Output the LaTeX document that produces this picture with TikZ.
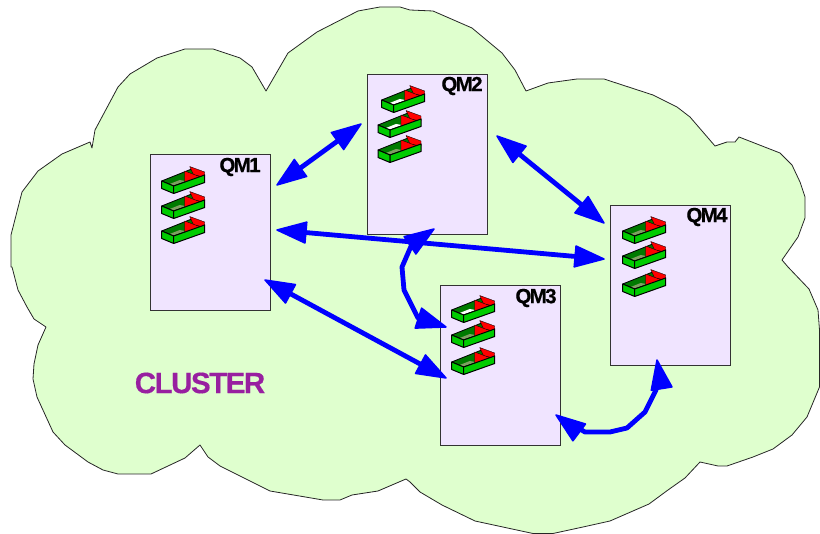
\documentclass[tikz,border=0pt]{standalone}
\usepackage{fontspec}
\setmainfont{Liberation Sans}
\usetikzlibrary{calc}
\definecolor{cloudfill}{HTML}{DFFFCE}
\definecolor{boxfill}{HTML}{F0E4FF}
\definecolor{traydark}{HTML}{007A00}
\definecolor{traylight}{HTML}{00CC00}
\definecolor{floorolive}{HTML}{7F9F62}
\definecolor{clusterpurple}{HTML}{981FA0}
\newcommand{\linkhead}[2]{%
  \coordinate (hb) at ($(#1)!29pt!(#2)$);
  \filldraw[headfill] (#1) -- ($(hb)!10.5pt!90:(#1)$) -- ($(hb)!10.5pt!-90:(#1)$) -- cycle;}
\tikzset{
  qmbox/.style={draw=black!80,fill=boxfill,line width=0.9pt,inner sep=0pt,outer sep=0pt},
  qmlabel/.style={inner sep=0pt,font=\fontsize{20.5}{22}\selectfont\bfseries\addfontfeature{LetterSpace=-8,FakeBold=0.6}},
  link/.style={draw=blue,line width=4.8pt,line join=round,shorten >=14pt,shorten <=14pt},
  headfill/.style={draw=blue,fill=blue,line width=1.5pt,line join=round},
  pics/tray/.style={code={
    \draw[fill=traydark,line width=0.8pt,line join=round] (0,0) -- (30,-12) -- (43,-6) -- (12,5) -- cycle;
    \fill[#1] (8,3) -- (18,-1) -- (24,0) -- (12,4.3) -- cycle;
    \draw[fill=red,line width=0.35pt,line join=round] (28,-14.5) -- (43,-9) -- (43,-4) -- (32,-6) -- cycle;
    \draw[fill=red,line width=0.35pt,line join=round] (23,-10) -- (39,-4) -- (23,2) -- cycle;
    \draw[fill=traylight,line width=1pt,line join=round] (0,0) -- (12,5) -- (12,12.5) -- (0,7.5) -- cycle;
    \draw[fill=traylight,line width=1pt,line join=round] (12,5) -- (43,-6) -- (43,1.5) -- (12,12.5) -- cycle;
  }}
}
\begin{document}
\begin{tikzpicture}[x=1pt,y=-1pt]
\useasboundingbox (0,0) rectangle (820,534);
% cloud
\draw[fill=cloudfill,draw=black!85,line width=0.8pt,line join=round]
 (92,148) -- (90,142) -- (62,154) -- (38,171) -- (22,192) -- (11,235) -- (11,267) -- (12,267)
 -- (18,290) -- (27,307) -- (34,319) -- (46,327) -- (38,345) -- (34,364) -- (33,379) -- (37,397)
 -- (53,432) -- (65,445) -- (88,462) -- (103,470) -- (118,474) -- (151,474) -- (185,458) -- (200,445)
 -- (208,457) -- (220,466) -- (270,491) -- (323,500) -- (340,500) -- (352,495) -- (378,491) -- (406,479)
 -- (410,482) -- (420,492) -- (442,505) -- (475,521) -- (533,533.5) -- (553,533.5) -- (583,527) -- (610,521)
 -- (649,504) -- (668,490) -- (685,478) -- (700,462) -- (718,466) -- (727,466) -- (753,457) -- (773,449)
 -- (792,435) -- (807,417) -- (819.5,387) -- (819.5,330) -- (818,310) -- (809,289) -- (788,267) -- (782,260)
 -- (798,237) -- (805,218) -- (805,197) -- (800,182) -- (792,165) -- (780,153) -- (739,137) -- (735,142)
 -- (727,142) -- (715,146) -- (690,117) -- (677,107) -- (653,95) -- (604,79) -- (577,79) -- (548,83)
 -- (526,91) -- (515,70) -- (502,53) -- (472,28) -- (433,11) -- (410,10) -- (400,7) -- (380,7)
 -- (358,11) -- (317,32) -- (288,53) -- (266,91) -- (252,67) -- (240,58) -- (213,49) -- (185,49)
 -- (157,58) -- (130,74) -- (118,87) -- (95,130) -- cycle;
% boxes
\node[qmbox,minimum width=120pt,minimum height=156pt] (qm1) at (210.5,232.5) {};
\node[qmbox,minimum width=120pt,minimum height=160pt] (qm2) at (427,154.5) {};
\node[qmbox,minimum width=120pt,minimum height=160pt] (qm3) at (500.5,365) {};
\node[qmbox,minimum width=120pt,minimum height=160pt] (qm4) at (670.5,285) {};
\node[qmlabel] (l1) at (240,167) {QM1};
\node[qmlabel] (l2) at (462,86) {QM2};
\node[qmlabel] (l3) at (536,298) {QM3};
\node[qmlabel] (l4) at (707,217) {QM4};
\node[inner sep=0pt,text=clusterpurple,font=\fontsize{29.5}{31}\selectfont\bfseries\addfontfeature{LetterSpace=-5,FakeBold=0.4}] (cl) at (200,383) {CLUSTER};
% trays
\pic at (161.7,181) {tray=floorolive};
\pic at (161.7,206) {tray=floorolive};
\pic at (161.7,231) {tray=floorolive};
\pic at (381.7,100) {tray=white};
\pic at (378,125) {tray=white};
\pic at (378,150) {tray=floorolive};
\pic at (451.7,310) {tray=white};
\pic at (451.7,335) {tray=floorolive};
\pic at (451.7,362) {tray=floorolive};
\pic at (622.7,231) {tray=floorolive};
\pic at (622.7,256) {tray=floorolive};
\pic at (622.7,284) {tray=floorolive};
% connector ends
\coordinate (a1) at (277,185);
\coordinate (a2) at (361,124);
\coordinate (b1) at (497,136);
\coordinate (b2) at (604,223);
\coordinate (c1) at (277,230);
\coordinate (c2) at (604,259);
\coordinate (d1) at (265,280);
\coordinate (d2) at (446,378);
\coordinate (e1) at (434,229);
\coordinate (e2) at (412,244);
\coordinate (e3) at (402,267);
\coordinate (e4) at (404,290);
\coordinate (e5) at (418,318);
\coordinate (e6) at (446,327);
\coordinate (f1) at (556,415);
\coordinate (f2) at (585,432);
\coordinate (f3) at (610,432);
\coordinate (f4) at (627,428);
\coordinate (f5) at (645,412);
\coordinate (f6) at (656,390);
\coordinate (f7) at (657,360);
\coordinate (f8) at (661.7,389);
\coordinate (f9) at (580,433);
% connectors
\draw[link] (e1) -- (e2) -- (e3) -- (e4) -- (e5) -- (e6);
\draw[link] (a1) -- (a2);
\draw[link] (b1) -- (b2);
\draw[link] (c1) -- (c2);
\draw[link] (d1) -- (d2);
\draw[link] (f1) -- (f2) -- (f3) -- (f4) -- (f5) -- (f6) -- (f7);
\linkhead{a1}{a2}\linkhead{a2}{a1}
\linkhead{b1}{b2}\linkhead{b2}{b1}
\linkhead{c1}{c2}\linkhead{c2}{c1}
\linkhead{d1}{d2}\linkhead{d2}{d1}
\linkhead{e1}{e2}\linkhead{e6}{e5}
\linkhead{f1}{f9}\linkhead{f7}{f8}
\end{tikzpicture}
\end{document}
